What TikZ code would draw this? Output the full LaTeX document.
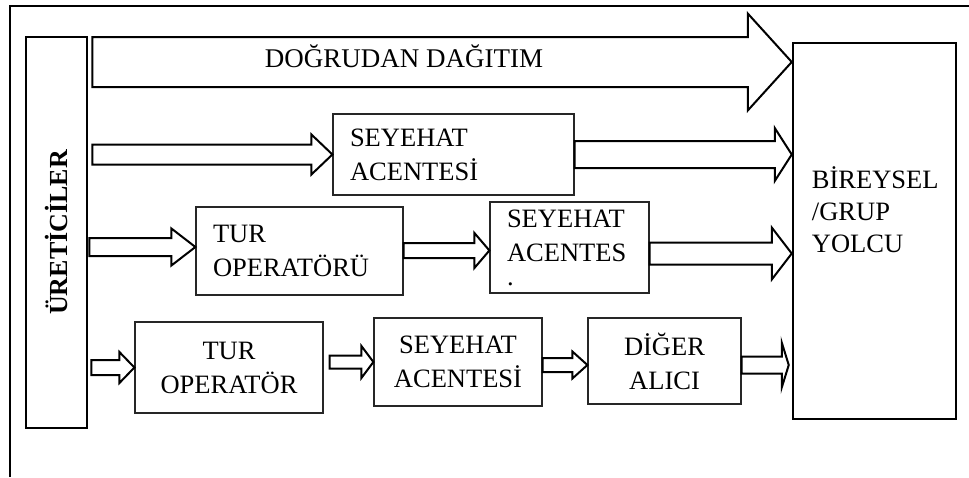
\documentclass[tikz,border=0pt]{standalone}
\usepackage{fontspec}
\setmainfont{Liberation Serif}
\usetikzlibrary{calc,positioning}
\newcommand{\boxfont}{\fontsize{26.5}{34}\selectfont}
% hollow block arrow: start, tip, half shaft, half head, head length
\newcommand{\blockarrow}[5]{%
  \draw[fatarrow] let \p1=(#1), \p2=(#2) in
    (\x1,\y2+#3pt) -- (\x2-#5pt,\y2+#3pt) -- (\x2-#5pt,\y2+#4pt) -- (\x2,\y2)
    -- (\x2-#5pt,\y2-#4pt) -- (\x2-#5pt,\y2-#3pt) -- (\x1,\y2-#3pt) -- cycle;}

\begin{document}
\begin{tikzpicture}[x=1pt,y=-1pt,
    endbox/.style={draw, line width=2.5pt, inner sep=0pt},
    chanbox/.style={draw=black!85, line width=1.2pt, font=\boxfont, align=center, inner sep=0pt},
    leftbox/.style={chanbox, align=left, inner xsep=17pt},
    fatarrow/.style={draw, line width=2pt, line join=miter}]
  \useasboundingbox (0,0) rectangle (969,477);
  \draw[line width=2pt] (10,477) -- (10,6) -- (969,6);

  % producers and passengers
  \node[endbox, minimum width=61pt, minimum height=391pt,
    label={[rotate=90, font=\bfseries\fontsize{26}{30}\selectfont]center:ÜRETİCİLER}] (uret) at (56.5,232.5) {};
  \node[endbox, minimum width=163pt, minimum height=376pt] (yolcu) at (874.5,231) {};
  \node[font=\boxfont, align=left, anchor=west, inner sep=0pt] (yolcutxt)
    at ([shift={(20,-21)}]yolcu.west) {BİREYSEL\\[-2pt]/GRUP\\[-2pt]YOLCU};

  % direct channel
  \node[font=\fontsize{27}{30}\selectfont, text height=17pt, text depth=7pt] (dd) at (404,62) {DOĞRUDAN DAĞITIM};
  \blockarrow{$(uret.east |- dd)+(4,0)$}{yolcu.west |- dd}{25}{48.5}{44}

  % intermediaries
  \node[leftbox, text width=207pt, minimum height=81pt] (ta1) at (453.5,154.5) {SEYEHAT\\ACENTESİ};
  \node[leftbox, text width=173pt, minimum height=88pt] (to1) at (299.5,251) {TUR\\OPERATÖRÜ};
  \node[leftbox, text width=125pt, minimum height=91pt] (ta2) at (569.5,247.5) {SEYEHAT\\ACENTES\\[-10pt].};
  \node[chanbox, minimum width=188pt, minimum height=91pt] (to2) at (229,367.5) {TUR\\OPERATÖR};
  \node[chanbox, minimum width=168pt, minimum height=88pt] (ta3) at (458,362) {SEYEHAT\\ACENTESİ};
  \node[chanbox, minimum width=153pt, minimum height=86pt] (da) at (664.5,361) {DİĞER\\ALICI};

  \blockarrow{$(uret.east |- ta1)+(4,0)$}{ta1.west}{10}{20}{21}
  \blockarrow{ta1.east}{yolcu.west |- ta1}{13.5}{26.5}{17}

  \blockarrow{$(uret.east |- to1)+(1,0)$}{$(to1.west)+(0,-4)$}{9}{18.5}{24}
  \blockarrow{to1.east}{$(ta2.west)+(0,3)$}{7.5}{17.5}{15}
  \blockarrow{ta2.east}{$(yolcu.west |- ta2)+(0,6)$}{11}{26}{20}

  \blockarrow{$(uret.east |- to2)+(3,0)$}{to2.west}{7.5}{15.5}{15}
  \blockarrow{$(to2.east)+(6,0)$}{ta3.west}{6.5}{16}{12}
  \blockarrow{ta3.east}{$(da.west)+(0,4)$}{7}{13.5}{15}
  \blockarrow{da.east}{$(yolcu.west |- da)+(-3,4)$}{8.5}{22.5}{7}
\end{tikzpicture}
\end{document}
